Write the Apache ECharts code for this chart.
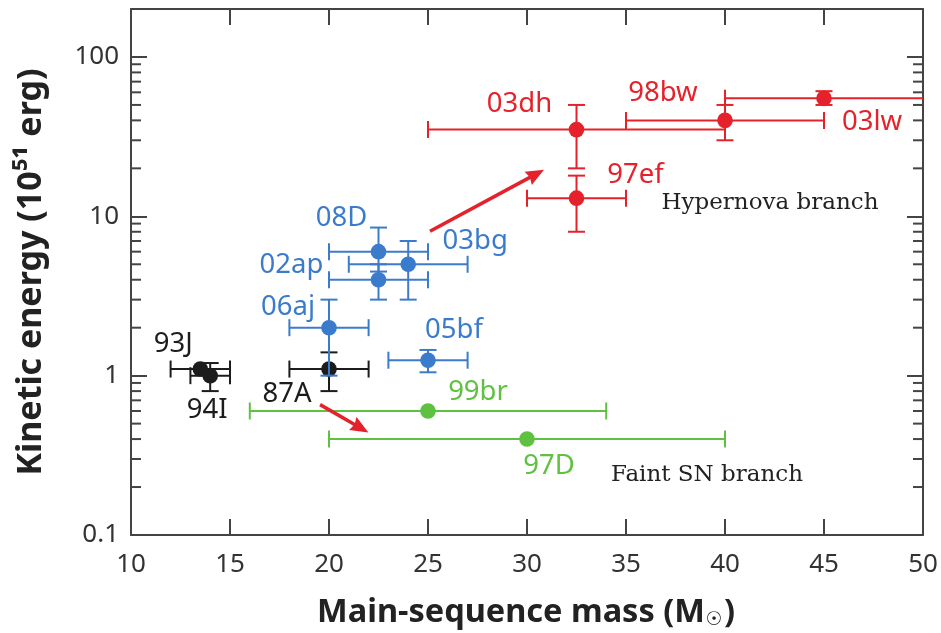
<!DOCTYPE html>
<html><head><meta charset="utf-8">
<script src="https://cdn.jsdelivr.net/npm/echarts@6/dist/echarts.min.js"></script>
<style>html,body{margin:0;padding:0;background:#fff}#c{width:941px;height:633px}</style>
</head><body><div id="c"></div>
<script>
// ---- data ----
const names    = ['93J','94I','87A','06aj','05bf','02ap','08D','03bg','03dh','97ef','98bw','03lw','99br','97D'];
const groups   = ['k','k','k','b','b','b','b','b','r','r','r','r','g','g'];
const mass     = [13.5, 14, 20, 20, 25, 22.5, 22.5, 24, 32.5, 32.5, 40, 45, 25, 30];
const massLo   = [12, 13, 18, 18, 23, 20, 20, 21, 25, 30, 35, 40, 16, 20];
const massHi   = [15, 15, 22, 22, 27, 25, 25, 27, 40, 35, 45, 55, 34, 40];
const energy   = [1.1, 1.0, 1.1, 2, 1.25, 4, 6, 5, 35, 13, 40, 55, 0.6, 0.4];
const energyLo = [null, 0.8, 0.8, 1.0, 1.05, 3, 4.5, 3, 20, 8, 30, 50, null, null];
const energyHi = [null, 1.2, 1.4, 3, 1.45, 5, 8.5, 7, 50, 18, 50, 61, null, null];
const xTicks   = [10, 15, 20, 25, 30, 35, 40, 45, 50];
const yTicks   = [0.1, 1, 10, 100];
const yMinorTicks = [0.2,0.3,0.4,0.5,0.6,0.7,0.8,0.9, 2,3,4,5,6,7,8,9, 20,30,40,50,60,70,80,90];
// arrows: [fromMass, fromEnergy, toMass, toEnergy]
const arrowFrom = [[25.1, 8.05], [19.55, 0.658]];
const arrowTo   = [[30.86, 19.6], [21.99, 0.44]];
const branchTexts = ['Hypernova branch', 'Faint SN branch'];
const branchAnchor = [[42.27, 12.2], [39.09, 0.239]];

// ---- styles / layout ----
const colors = {k:'#1c1c1c', b:'#3b7bcc', r:'#e5222b', g:'#5fc140'};
const labelOffset = {
  '93J':[-27,-25], '94I':[-3,35], '87A':[-42,25], '06aj':[-41,-21], '05bf':[26,-30],
  '02ap':[-87,-15], '08D':[-37,-33], '03bg':[67,-23], '03dh':[-57,-25], '97ef':[59,-23],
  '98bw':[-62,-27], '03lw':[48,24], '99br':[50,-19], '97D':[22,27]
};
const AX = '#444', LBL = '#333';
const SANS = '"Noto Sans", "Open Sans", sans-serif';

const chart = echarts.init(document.getElementById('c'));

const pointData = names.map((n, i) => [mass[i], energy[i], i]);

function renderPoint(params, api) {
  const i = params.dataIndex;
  const col = colors[groups[i]];
  const p = api.coord([mass[i], energy[i]]);
  const ch = [];
  const ls = {stroke: col, lineWidth: 2};
  const cap = 8.5;
  const l = api.coord([massLo[i], energy[i]]);
  const r = api.coord([massHi[i], energy[i]]);
  ch.push({type:'line', shape:{x1:l[0], y1:l[1], x2:r[0], y2:r[1]}, style:ls});
  ch.push({type:'line', shape:{x1:l[0], y1:l[1]-cap, x2:l[0], y2:l[1]+cap}, style:ls});
  ch.push({type:'line', shape:{x1:r[0], y1:r[1]-cap, x2:r[0], y2:r[1]+cap}, style:ls});
  if (energyLo[i] != null) {
    const b = api.coord([mass[i], energyLo[i]]);
    const t = api.coord([mass[i], energyHi[i]]);
    ch.push({type:'line', shape:{x1:b[0], y1:b[1], x2:t[0], y2:t[1]}, style:ls});
    ch.push({type:'line', shape:{x1:b[0]-cap, y1:b[1], x2:b[0]+cap, y2:b[1]}, style:ls});
    ch.push({type:'line', shape:{x1:t[0]-cap, y1:t[1], x2:t[0]+cap, y2:t[1]}, style:ls});
  }
  ch.push({type:'circle', shape:{cx:p[0], cy:p[1], r:7.8}, style:{fill:col}});
  const off = labelOffset[names[i]];
  ch.push({type:'text', x:p[0]+off[0], y:p[1]+off[1], style:{
    text:names[i], fill:col, fontSize:27.5, fontFamily:SANS, align:'center', verticalAlign:'middle'}});
  return {type:'group', children:ch};
}

function renderMinor(params, api) {
  const v = yMinorTicks[params.dataIndex];
  const a = api.coord([10, v]), b = api.coord([50, v]);
  const st = {stroke: AX, lineWidth: 2};
  return {type:'group', children:[
    {type:'line', shape:{x1:a[0], y1:a[1], x2:a[0]+10, y2:a[1]}, style:st},
    {type:'line', shape:{x1:b[0], y1:b[1], x2:b[0]-10, y2:b[1]}, style:st}
  ]};
}

function renderArrow(params, api) {
  const i = params.dataIndex;
  const p1 = api.coord(arrowFrom[i]), p2 = api.coord(arrowTo[i]);
  const ang = Math.atan2(p2[1]-p1[1], p2[0]-p1[0]);
  const L = 18, W = 7.5;
  const bx = p2[0] - L*Math.cos(ang), by = p2[1] - L*Math.sin(ang);
  const nx = -Math.sin(ang), ny = Math.cos(ang);
  return {type:'group', children:[
    {type:'line', shape:{x1:p1[0], y1:p1[1], x2:bx+3*Math.cos(ang), y2:by+3*Math.sin(ang)}, style:{stroke:colors.r, lineWidth:3.5}},
    {type:'polygon', shape:{points:[[p2[0],p2[1]],[bx+nx*W,by+ny*W],[bx+2*Math.cos(ang),by+2*Math.sin(ang)],[bx-nx*W,by-ny*W]]}, style:{fill:colors.r}}
  ]};
}

const xAxisBase = {
  type:'value', min:xTicks[0], max:xTicks[xTicks.length-1], interval:5,
  axisLine:{show:true, onZero:false, lineStyle:{color:AX, width:2}},
  axisTick:{show:true, inside:true, length:16, lineStyle:{color:AX, width:2}},
  splitLine:{show:false}
};
const yAxisBase = {
  type:'log', logBase:10, min:yTicks[0], max:200,
  axisLine:{show:true, onZero:false, lineStyle:{color:AX, width:2}},
  axisTick:{show:true, inside:true, length:16, lineStyle:{color:AX, width:2}},
  splitLine:{show:false}, minorTick:{show:false}
};

chart.setOption({
  animation:false,
  backgroundColor:'#fff',
  grid:{left:131, right:18, top:9, bottom:98, containLabel:false},
  xAxis:[
    Object.assign({}, xAxisBase, {position:'bottom',
      axisLabel:{show:true, fontSize:26, color:LBL, fontFamily:SANS, margin:17}}),
    Object.assign({}, xAxisBase, {position:'top', axisLabel:{show:false}})
  ],
  yAxis:[
    Object.assign({}, yAxisBase, {position:'left',
      axisLabel:{show:true, fontSize:26, color:LBL, fontFamily:SANS, margin:12, showMaxLabel:false,
        formatter: v => (v < 1 ? Number(v).toFixed(1) : String(Math.round(v)))}}),
    Object.assign({}, yAxisBase, {position:'right', axisLabel:{show:false}})
  ],
  series:[
    {type:'custom', name:'minor', xAxisIndex:0, yAxisIndex:0, silent:true,
      data: yMinorTicks.map(v => [10, v]), renderItem: renderMinor},
    {type:'custom', name:'SNe', xAxisIndex:0, yAxisIndex:0, clip:true,
      data: pointData, renderItem: renderPoint, encode:{x:0, y:1}},
    {type:'custom', name:'arrows', xAxisIndex:0, yAxisIndex:0,
      data: arrowFrom.map((a, i) => [a[0], a[1], arrowTo[i][0], arrowTo[i][1]]), renderItem: renderArrow}
  ]
});

// axis titles and annotations
const gfx = [
  {type:'text', x:31, y:272, rotation:Math.PI/2, style:{
    text:'Kinetic energy (10⁵¹ erg)', fill:'#222', fontSize:34, fontWeight:'bold', fontFamily:SANS,
    align:'center', verticalAlign:'middle'}},
  {type:'text', x:526, y:613, style:{
    text:'{a|Main-sequence mass (M}{s|☉}{a|)}', align:'center', verticalAlign:'middle',
    rich:{a:{fontSize:32.5, fontWeight:'bold', fontFamily:SANS, fill:'#222'},
          s:{fontSize:19, fontFamily:'"DejaVu Sans"', fill:'#222', verticalAlign:'bottom', padding:[14,1,0,1]}}}}
];
branchTexts.forEach((t, i) => {
  const p = chart.convertToPixel({gridIndex:0}, branchAnchor[i]);
  gfx.push({type:'text', x:p[0], y:p[1], style:{text:t, fill:'#222', fontSize:23,
    fontFamily:'"DejaVu Serif", serif', align:'center', verticalAlign:'middle'}});
});
chart.setOption({graphic:gfx});
</script></body></html>
